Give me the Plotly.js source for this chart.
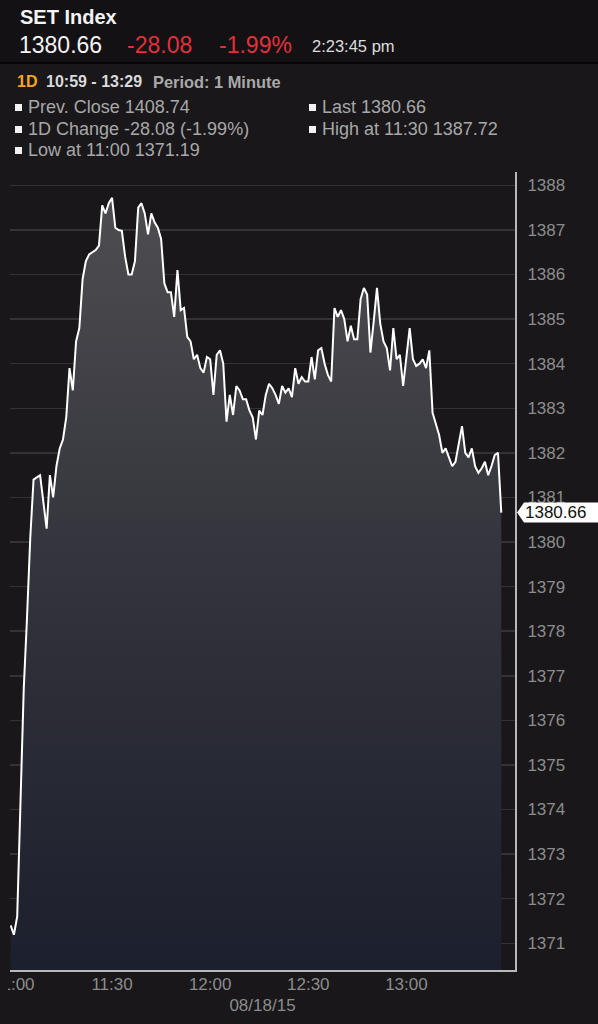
<!DOCTYPE html>
<html>
<head>
<meta charset="utf-8">
<script src="https://cdn.plot.ly/plotly-3.0.1.min.js"></script>
<style>
  html, body { margin:0; padding:0; background:#19171a; width:598px; height:1024px; overflow:hidden; }
  #wrap { position:relative; width:598px; height:1024px; }
  #chart { position:absolute; left:0; top:0; width:598px; height:1024px; }
  .hdr { position:absolute; font-family:"Liberation Sans", Arial, sans-serif; white-space:nowrap; pointer-events:none; }
  #topband { position:absolute; left:0; top:0; width:598px; height:62px; background:#131114; border-bottom:2px solid #080708; }
  #leftmask { position:absolute; left:0; top:973px; width:8px; height:24px; background:#19171a; }
  .bul { display:inline-block; width:7px; height:7px; background:#f2f2f2; margin-right:6px; vertical-align:2px; }
</style>
</head>
<body>
<div id="wrap">
  <div id="chart"></div>
  <div id="topband"></div>
  <div id="leftmask"></div>
  <div id="hdr"></div>
</div>
<script>
// ---- data ----
const indexName = "SET Index";
const lastValue = 1380.66;
const changeValue = "-28.08";
const changePct = "-1.99%";
const quoteTime = "2:23:45 pm";
const rangeTag = "1D";
const rangeTimes = "10:59 - 13:29";
const periodText = "Period: 1 Minute";
const sessionStart = "2015-08-18 10:59";
const periodMinutes = 1;
const dateLabel = "08/18/15";
const statsLeft = ["Prev. Close 1408.74", "1D Change -28.08 (-1.99%)", "Low at 11:00 1371.19"];
const statsRight = ["Last 1380.66", "High at 11:30 1387.72"];
const xTickVals = ["2015-08-18 11:00:00", "2015-08-18 11:30:00", "2015-08-18 12:00:00", "2015-08-18 12:30:00", "2015-08-18 13:00:00"];
const xTickText = ["11:00", "11:30", "12:00", "12:30", "13:00"];

// one value per minute, 10:59 .. 13:29
const closeValues = [
  1371.4, 1371.19, 1371.6, 1374.4, 1376.7, 1378.3, 1380.1, 1381.4, 1381.45, 1381.5,
  1380.9, 1380.3, 1381.5, 1381.0, 1381.7, 1382.1, 1382.3, 1382.8, 1383.9, 1383.4,
  1384.5, 1384.8, 1385.9, 1386.3, 1386.45,
  1386.5, 1386.55, 1386.65, 1387.55, 1387.37, 1387.6, 1387.72, 1387.05, 1387.0, 1386.98,
  1386.4, 1386.0, 1386.0, 1386.3, 1387.5, 1387.6, 1387.37, 1386.9, 1387.37, 1387.17,
  1387.05, 1386.8, 1385.8, 1385.6, 1385.6, 1385.05, 1386.1, 1385.2, 1385.25, 1384.6,
  1384.5, 1384.1, 1384.2, 1383.9,
  1383.8, 1384.15, 1384.1, 1383.3, 1384.2, 1384.3, 1384.0, 1382.7, 1383.3, 1382.85,
  1383.5, 1383.4, 1383.2, 1383.2, 1382.95, 1382.8, 1382.3, 1382.95,
  1382.85, 1383.3, 1383.55, 1383.45, 1383.3, 1383.1, 1383.5, 1383.35, 1383.45, 1383.25,
  1383.9, 1383.55, 1383.7, 1383.6, 1383.6, 1384.15, 1383.65, 1384.3, 1384.35, 1384.0,
  1383.75, 1383.6, 1385.25, 1385.05, 1385.2, 1385.0,
  1384.5, 1384.85, 1384.55, 1384.55, 1385.45, 1385.7, 1385.55, 1384.25, 1384.95, 1385.7,
  1384.9, 1384.5, 1384.35, 1383.85, 1384.8, 1384.1, 1384.2, 1383.5, 1384.15, 1384.8,
  1384.1, 1383.95, 1384.0, 1384.1, 1383.9, 1384.3,
  1382.9, 1382.65, 1382.4, 1382.0, 1382.1, 1381.9, 1381.7, 1381.8, 1382.2, 1382.6,
  1382.0, 1381.9, 1382.1, 1381.7, 1381.55, 1381.65, 1381.8, 1381.5, 1381.7, 1381.95,
  1382.0, 1380.66
];

// ---- header (HTML text) ----
const hdr = document.getElementById('hdr');
function put(html, left, top, css) {
  const d = document.createElement('div');
  d.className = 'hdr';
  d.style.left = left + 'px';
  d.style.top = top + 'px';
  d.style.cssText += css;
  d.innerHTML = html;
  hdr.appendChild(d);
}
put(indexName, 20, 6, 'font-size:20px;font-weight:bold;color:#f4f4f4;');
put(lastValue.toFixed(2), 19, 32, 'font-size:23px;color:#f4f4f4;');
put(changeValue, 127, 32, 'font-size:23px;color:#e2303b;');
put(changePct, 219, 32, 'font-size:23px;color:#e2303b;');
put(quoteTime, 312, 37, 'font-size:16.5px;color:#dcdcdc;');
put(rangeTag, 17, 73, 'font-size:16px;font-weight:bold;color:#f5a623;');
put(rangeTimes, 46, 73, 'font-size:16px;font-weight:bold;color:#dadada;');
put(periodText, 153, 73, 'font-size:16.4px;font-weight:bold;color:#a9a9a9;');
statsLeft.forEach((t, i) => put('<span class="bul"></span>' + t, 15, 97 + i * 21.5, 'font-size:18px;color:#a8a8a8;'));
statsRight.forEach((t, i) => put('<span class="bul"></span>' + t, 309, 97 + i * 21.5, 'font-size:18px;color:#a8a8a8;'));

// ---- chart ----
const t0 = new Date(sessionStart.replace(' ', 'T') + ':00Z').getTime();
function fmt(ms) {
  const d = new Date(ms);
  const p = n => String(n).padStart(2, '0');
  return d.getUTCFullYear() + '-' + p(d.getUTCMonth() + 1) + '-' + p(d.getUTCDate()) + ' ' +
         p(d.getUTCHours()) + ':' + p(d.getUTCMinutes()) + ':' + p(d.getUTCSeconds());
}
const times = closeValues.map((v, i) => fmt(t0 + i * periodMinutes * 60000));
const xStart = fmt(t0 - 12000);
const xEnd = fmt(t0 + (closeValues.length - 1) * 60000 + 4.2 * 60000);

const trace = {
  x: times,
  y: closeValues,
  type: 'scatter',
  mode: 'lines',
  line: { color: '#ffffff', width: 2 },
  fill: 'tozeroy',
  fillgradient: {
    type: 'vertical',
    start: 1370.4,
    stop: 1388,
    colorscale: [[0, '#1c1f2d'], [0.45, '#303139'], [1, '#4e4e52']]
  },
  hoverinfo: 'skip'
};

const lastY = closeValues[closeValues.length - 1];
const layout = {
  width: 598,
  height: 1024,
  paper_bgcolor: 'rgba(0,0,0,0)',
  plot_bgcolor: '#19171a',
  margin: { l: 10, r: 83, t: 172, b: 54 },
  showlegend: false,
  font: { family: '"Liberation Sans", Arial, sans-serif', color: '#8c8c8c', size: 17 },
  xaxis: {
    type: 'date',
    range: [xStart, xEnd],
    tickmode: 'array',
    tickvals: xTickVals,
    ticktext: xTickText,
    ticklabeloverflow: 'allow',
    showgrid: false,
    zeroline: false,
    showline: true,
    linecolor: '#b8b8b8',
    linewidth: 2,
    ticks: '',
    ticklabelstandoff: -2,
    tickfont: { size: 17, color: '#8c8c8c' },
    title: { text: dateLabel, font: { size: 17, color: '#8c8c8c' }, standoff: 6 }
  },
  yaxis: {
    side: 'right',
    range: [1370.4, 1388.3],
    tick0: 1371,
    dtick: 1,
    showgrid: true,
    gridcolor: '#343236',
    gridwidth: 1.5,
    zeroline: false,
    showline: true,
    linecolor: '#b8b8b8',
    linewidth: 2,
    ticks: '',
    ticklabelstandoff: 7,
    tickfont: { size: 17, color: '#8c8c8c' }
  },
  shapes: [{
    type: 'path',
    xref: 'paper', xsizemode: 'pixel', xanchor: 1,
    yref: 'y', ysizemode: 'pixel', yanchor: lastY,
    path: 'M 2 0 L 9 -10 L 90 -10 L 90 10 L 9 10 Z',
    fillcolor: '#ffffff',
    line: { width: 0 },
    layer: 'above'
  }],
  annotations: [{
    xref: 'paper', x: 1, xanchor: 'left', xshift: 8,
    yref: 'y', y: lastY, yanchor: 'middle',
    text: lastY.toFixed(2),
    showarrow: false,
    font: { size: 17, color: '#111111' }
  }]
};

Plotly.newPlot('chart', [trace], layout, { displayModeBar: false, staticPlot: true });
</script>
</body>
</html>
